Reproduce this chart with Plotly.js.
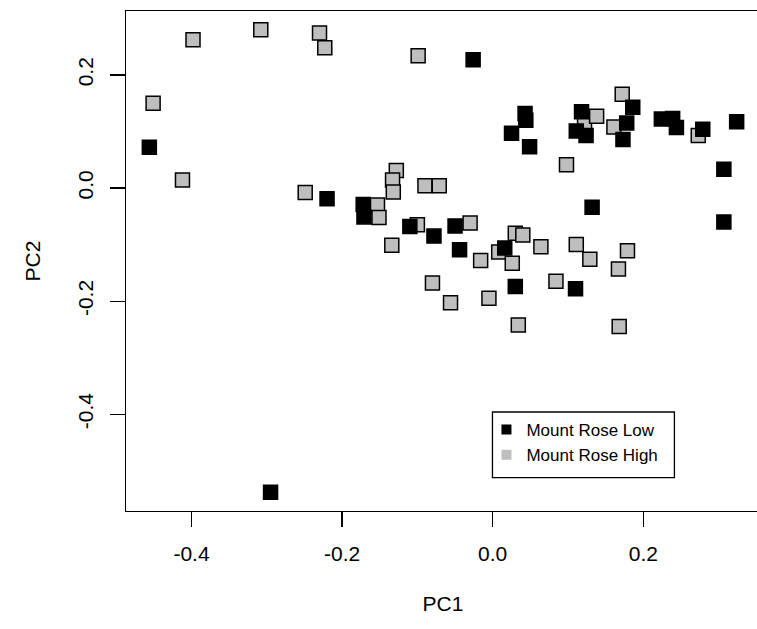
<!DOCTYPE html>
<html>
<head>
<meta charset="utf-8">
<script src="https://cdn.plot.ly/plotly-3.0.1.min.js"></script>
<style>
html, body { margin: 0; padding: 0; overflow: hidden; background: #fff; }
#chart { width: 770px; height: 629px; }
</style>
</head>
<body>
<div id="chart"></div>
<script>
// Mount Rose Low (black)
const lowPC1 = [-0.456, -0.026, -0.220, -0.172, -0.171, -0.110, -0.078, -0.050, -0.044, 0.016,
  0.030, 0.110, 0.132, 0.307, 0.307, 0.043, 0.044, 0.025, 0.049, 0.118,
  0.111, 0.124, 0.178, 0.173, 0.186, 0.224, 0.239, 0.244, 0.279, 0.324, -0.295];
const lowPC2 = [0.072, 0.227, -0.019, -0.029, -0.051, -0.068, -0.085, -0.067, -0.109, -0.106,
  -0.174, -0.178, -0.034, -0.060, 0.033, 0.132, 0.120, 0.097, 0.073, 0.135,
  0.101, 0.093, 0.115, 0.086, 0.143, 0.122, 0.123, 0.107, 0.104, 0.117, -0.538];
// Mount Rose High (gray)
const highPC1 = [-0.398, -0.308, -0.230, -0.223, -0.099, -0.451, -0.412, -0.249, -0.153, -0.151,
  -0.128, -0.133, -0.132, -0.090, -0.071, -0.134, -0.100, -0.030, -0.080, -0.056,
  -0.016, -0.005, 0.008, 0.026, 0.030, 0.040, 0.064, 0.034, 0.084, 0.111,
  0.129, 0.179, 0.167, 0.168, 0.098, 0.122, 0.138, 0.161, 0.172, 0.273];
const highPC2 = [0.262, 0.280, 0.274, 0.248, 0.234, 0.150, 0.014, -0.008, -0.030, -0.052,
  0.031, 0.014, -0.007, 0.004, 0.004, -0.101, -0.065, -0.062, -0.168, -0.203,
  -0.128, -0.195, -0.113, -0.133, -0.080, -0.083, -0.104, -0.242, -0.165, -0.100,
  -0.126, -0.111, -0.143, -0.245, 0.041, 0.113, 0.127, 0.108, 0.166, 0.093];
const seriesNames = ["Mount Rose Low", "Mount Rose High"];
const xTicks = [-0.4, -0.2, 0.0, 0.2];
const xTickText = ["-0.4", "-0.2", "0.0", "0.2"];
const yTicks = [-0.4, -0.2, 0.0, 0.2];
const yTickText = ["-0.4", "-0.2", "0.0", "0.2"];

const FONT = '"Liberation Sans", Arial, Helvetica, sans-serif';
const GRAY = '#bebebe';

const traces = [
  { x: highPC1, y: highPC2, type: 'scatter', mode: 'markers', showlegend: false, hoverinfo: 'x+y',
    marker: { symbol: 'square', size: 14, color: GRAY, line: { color: '#000', width: 1.5 } } },
  { x: lowPC1, y: lowPC2, type: 'scatter', mode: 'markers', showlegend: false, hoverinfo: 'x+y',
    marker: { symbol: 'square', size: 14, color: '#000', line: { color: '#000', width: 1.5 } } },
  { x: [null], y: [null], type: 'scatter', mode: 'markers', name: seriesNames[0], showlegend: true,
    marker: { symbol: 'square', size: 10, color: '#000', line: { width: 0 } } },
  { x: [null], y: [null], type: 'scatter', mode: 'markers', name: seriesNames[1], showlegend: true,
    marker: { symbol: 'square', size: 10, color: GRAY, line: { width: 0 } } }
];

const axisCommon = {
  showgrid: false, zeroline: false, showline: true, mirror: true,
  linecolor: '#000', linewidth: 1.3,
  ticks: 'outside', ticklen: 15, tickwidth: 1.3, tickcolor: '#000',
  tickfont: { family: FONT, size: 21, color: '#000' },
  tickmode: 'array', automargin: false
};

const layout = {
  width: 770, height: 629,
  margin: { l: 125.5, r: 9.6, t: 11.2, b: 118.4, pad: 0 },
  paper_bgcolor: '#fff', plot_bgcolor: '#fff',
  font: { family: FONT, color: '#000' },
  xaxis: Object.assign({}, axisCommon, {
    range: [-0.487, 0.355], tickvals: xTicks, ticktext: xTickText,
    ticklabelstandoff: 8,
    title: { text: 'PC1', font: { family: FONT, size: 21, color: '#000' }, standoff: 32 }
  }),
  yaxis: Object.assign({}, axisCommon, {
    range: [-0.571, 0.313], tickvals: yTicks, ticktext: yTickText,
    tickangle: -90, ticklabelstandoff: 8,
    title: { text: 'PC2', font: { family: FONT, size: 21, color: '#000' }, standoff: 28 }
  }),
  showlegend: true,
  legend: {
    x: 0.578 + (-6 / 634.9), y: 0.198, xanchor: 'left', yanchor: 'top',
    bgcolor: 'rgba(0,0,0,0)', borderwidth: 0,
    font: { family: FONT, size: 17, color: '#000' },
    itemwidth: 30, tracegroupgap: 0
  },
  shapes: [
    { type: 'rect', xref: 'paper', yref: 'paper', x0: 0.578, x1: 0.865, y0: 0.0667, y1: 0.198,
      line: { color: '#000', width: 1.3 }, fillcolor: 'rgba(0,0,0,0)' }
  ]
};

Plotly.newPlot('chart', traces, layout, { displayModeBar: false, staticPlot: true });
</script>
</body>
</html>
